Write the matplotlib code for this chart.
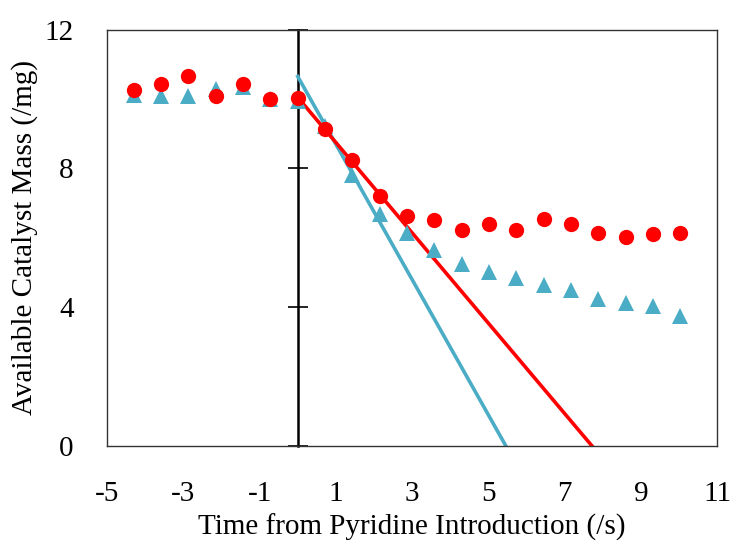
import matplotlib.pyplot as plt

plt.rcParams['font.family'] = ['Liberation Serif', 'DejaVu Serif']
plt.rcParams['axes.unicode_minus'] = False

# time points (s) relative to pyridine introduction
t = [-4.30, -3.58, -2.87, -2.15, -1.43, -0.72, 0.00, 0.72, 1.43, 2.15, 2.87,
     3.58, 4.30, 5.02, 5.73, 6.45, 7.17, 7.88, 8.60, 9.32, 10.03]

# red circles
mass_red = [10.25, 10.44, 10.66, 10.10, 10.44, 9.99, 10.02, 9.14, 8.24, 7.22, 6.63,
            6.51, 6.24, 6.39, 6.22, 6.53, 6.40, 6.14, 6.03, 6.10, 6.13]
# blue triangles
mass_blue = [10.13, 10.08, 10.10, 10.29, 10.35, 9.99, 9.94, 9.22, 7.82, 6.70, 6.15,
             5.66, 5.24, 5.02, 4.85, 4.64, 4.51, 4.23, 4.13, 4.04, 3.75]

# linear fits of initial decay
fit_red_t = [0.0, 7.72]
fit_red_y = [10.05, 0.0]
fit_blue_t = [0.0, 5.46]
fit_blue_y = [10.65, 0.0]

red = '#FF0000'
blue = '#4BACC6'

fig = plt.figure(figsize=(7.34, 5.5), dpi=100)
ax = fig.add_axes([0.146, 0.189, 0.831, 0.757])

ax.plot(fit_blue_t, fit_blue_y, color=blue, lw=2.6, zorder=2)
ax.plot(fit_red_t, fit_red_y, color=red, lw=2.6, zorder=2)
ax.plot(t, mass_blue, '^', color=blue, ms=12, mew=0, zorder=3)
ax.plot(t, mass_red, 'o', color=red, ms=11, mew=0, zorder=4)

ax.set_xlim(-5, 11)
ax.set_ylim(0, 12)
ax.set_xticks(range(-5, 12, 2))
ax.set_yticks([0, 4, 8, 12])
ax.tick_params(length=0, labelsize=21)
ax.tick_params(axis='x', pad=25)
ax.tick_params(axis='y', pad=24)
for s in ax.spines.values():
    s.set_color('#333333')
    s.set_linewidth(1.0)

# vertical axis crossing at t = 0
sec = ax.secondary_yaxis(0, transform=ax.transData)
sec.set_yticks([0, 4, 8, 12])
sec.tick_params(direction='inout', length=14, width=1.2, labelleft=False)
sec.spines['left'].set_linewidth(1.8)
sec.spines['left'].set_color('black')

ax.set_xlabel('Time from Pyridine Introduction (/s)', fontsize=21, labelpad=5)
ax.set_ylabel('Available Catalyst Mass (/mg)', fontsize=21, labelpad=5)

fig.savefig('out.png', dpi=100)
